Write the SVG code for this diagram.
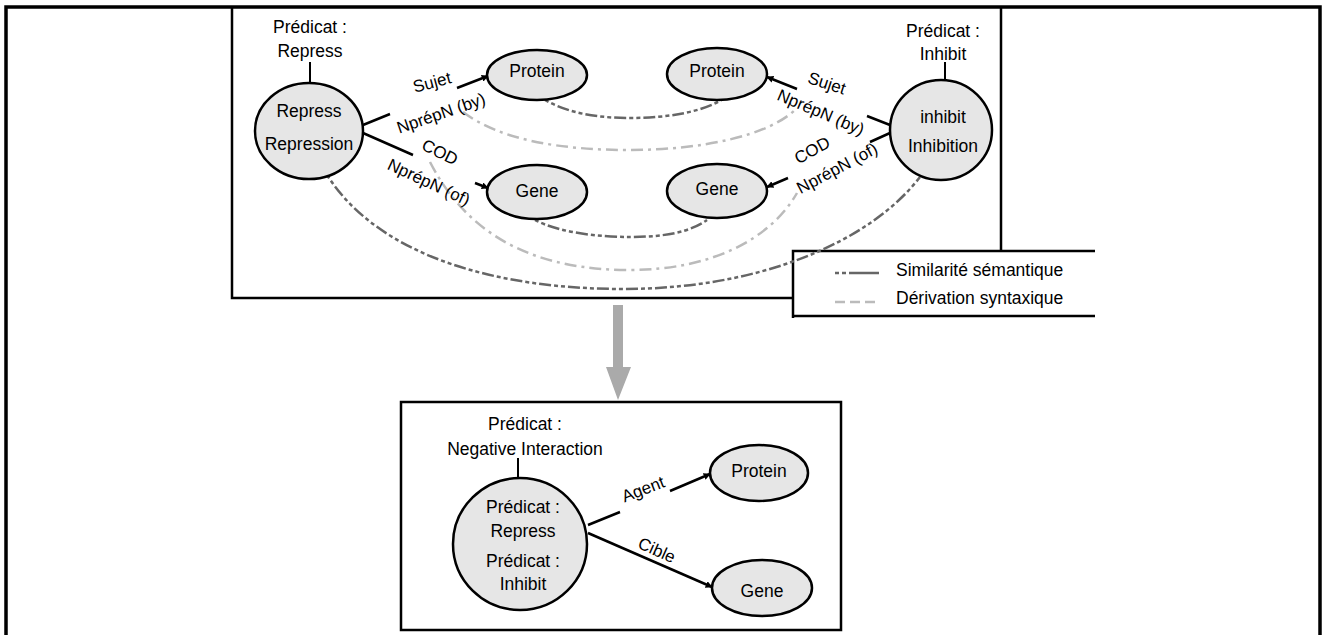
<svg xmlns="http://www.w3.org/2000/svg" width="1322" height="635" viewBox="0 0 1322 635">
<defs>
<marker id="ah" viewBox="0 0 10 10" refX="9" refY="5" markerWidth="7" markerHeight="7" markerUnits="userSpaceOnUse" orient="auto">
<path d="M0,0 L10,5 L0,10 z" fill="#000"/>
</marker>
<style>
text{font-family:"Liberation Sans",Arial,sans-serif;font-size:17.5px;fill:#000;text-anchor:middle}
.lab{font-size:17px}
.leg{text-anchor:start}
.node{fill:#e6e6e6;stroke:#000;stroke-width:2.5}
.edge{fill:none;stroke:#000;stroke-width:2.5}
.stem{stroke:#000;stroke-width:2}
.frame{fill:none;stroke:#000}
.sem{fill:none;stroke:#666;stroke-width:2.5;stroke-dasharray:4 3 4 3 12 3}
.syn{fill:none;stroke:#bbb;stroke-width:2.5;stroke-dasharray:12 5 3 5}
</style>
</defs>
<rect width="1322" height="635" fill="#fff"/>
<g id="frames">
<rect class="frame" x="6" y="7" width="1314" height="700" stroke-width="3.5"/>
<path class="frame" stroke-width="2.5" d="M232,7 L232,298 L793,298 M1001,7 L1001,251"/>
<path class="frame" stroke-width="2.5" d="M1095,251 L793,251 L793,318 M793,316 L1095,316"/>
<rect class="frame" x="401" y="402" width="440" height="228" stroke-width="2.5"/>
</g>
<g id="connectors">
<path class="sem" d="M545,100 C570,114 600,118 630,118 C668,118 703,112 725,98"/>
<path class="sem" d="M535,220 C560,233 600,237 630,237 C665,237 690,232 707,220"/>
<path class="sem" d="M327,175 C380,258 500,289 623,289 C760,289 870,242 920,177"/>
<path class="syn" d="M463,112 C500,140 560,150 630,150 C700,150 770,136 797,108"/>
<path class="syn" d="M430,162 C470,240 540,270 630,270 C710,270 770,240 797,193"/>
<path class="edge" d="M363,125 L390,114 M457,88 L488,76" marker-end="url(#ah)"/>
<path class="edge" d="M363,133 L413,155 M475,183 L488,188" marker-end="url(#ah)"/>
<path class="edge" d="M890,125 L867,116 M797,89 L767,77" marker-end="url(#ah)"/>
<path class="edge" d="M890,133 L870,142 M788,178 L767,187" marker-end="url(#ah)"/>
<path class="edge" d="M588,525 L620,512 M670,491 L710,474" marker-end="url(#ah)"/>
<path class="edge" d="M588,533 L712,587" marker-end="url(#ah)"/>
<polygon points="613,305 623,305 623,367 631,367 618,400 606,367 613,367" fill="#aaa"/>
</g>
<g id="labels">
<g transform="translate(432,82) rotate(-15)"><rect x="-23" y="-9" width="46" height="16" fill="#fff"/><text class="lab" y="6">Sujet</text></g>
<g transform="translate(441,113) rotate(-19)"><text class="lab" y="6">NprépN (by)</text></g>
<g transform="translate(440,152) rotate(26)"><rect x="-19" y="-9" width="38" height="18" fill="#fff"/><text class="lab" y="6">COD</text></g>
<g transform="translate(429,182) rotate(25)"><text class="lab" y="6">NprépN (of)</text></g>
<g transform="translate(827,83) rotate(18)"><rect x="-23" y="-9" width="46" height="16" fill="#fff"/><text class="lab" y="6">Sujet</text></g>
<g transform="translate(821,112) rotate(23)"><text class="lab" y="6">NprépN (by)</text></g>
<g transform="translate(812,150) rotate(-29)"><rect x="-19" y="-9" width="38" height="18" fill="#fff"/><text class="lab" y="6">COD</text></g>
<g transform="translate(837,168) rotate(-28)"><text class="lab" y="6">NprépN (of)</text></g>
<g transform="translate(643,489) rotate(-21)"><text class="lab" y="6">Agent</text></g>
<g transform="translate(657,550) rotate(24)"><rect x="-21" y="-9" width="42" height="16" fill="#fff"/><text class="lab" y="6">Cible</text></g>
</g>
<g id="repress">
<text x="310" y="33">Prédicat :</text>
<text x="310" y="57">Repress</text>
<line class="stem" x1="310" y1="62" x2="310" y2="83"/>
<ellipse class="node" cx="309" cy="131" rx="54" ry="48"/>
<text x="309" y="117">Repress</text>
<text x="309" y="150">Repression</text>
</g>
<g id="inhibit">
<text x="943" y="37">Prédicat :</text>
<text x="943" y="60">Inhibit</text>
<line class="stem" x1="945" y1="62" x2="945" y2="80"/>
<ellipse class="node" cx="941" cy="130" rx="51" ry="50"/>
<text x="943" y="123">inhibit</text>
<text x="943" y="152">Inhibition</text>
</g>
<g id="protein1"><ellipse class="node" cx="537" cy="75" rx="50" ry="25"/><text x="537" y="77">Protein</text></g>
<g id="gene1"><ellipse class="node" cx="537" cy="192" rx="50" ry="27"/><text x="537" y="197">Gene</text></g>
<g id="protein2"><ellipse class="node" cx="717" cy="74" rx="50" ry="26"/><text x="717" y="77">Protein</text></g>
<g id="gene2"><ellipse class="node" cx="717" cy="191" rx="50" ry="27"/><text x="717" y="195">Gene</text></g>
<g id="legend">
<line class="sem" x1="835" y1="273" x2="880" y2="273" style="stroke-dasharray:4 3 4 3 30"/>
<text class="leg" x="896" y="276">Similarité sémantique</text>
<line class="syn" x1="835" y1="302" x2="880" y2="302" style="stroke-dasharray:10 5"/>
<text class="leg" x="896" y="304">Dérivation syntaxique</text>
</g>
<g id="negative">
<text x="525" y="430">Prédicat :</text>
<text x="525" y="455">Negative Interaction</text>
<line class="stem" x1="518" y1="458" x2="518" y2="479"/>
<ellipse class="node" cx="520" cy="544" rx="67" ry="66"/>
<text x="523" y="513">Prédicat :</text>
<text x="523" y="537">Repress</text>
<text x="523" y="567">Prédicat :</text>
<text x="523" y="590">Inhibit</text>
</g>
<g id="protein3"><ellipse class="node" cx="759" cy="473" rx="49" ry="28"/><text x="759" y="477">Protein</text></g>
<g id="gene3"><ellipse class="node" cx="762" cy="588" rx="50" ry="28"/><text x="762" y="597">Gene</text></g>
</svg>
